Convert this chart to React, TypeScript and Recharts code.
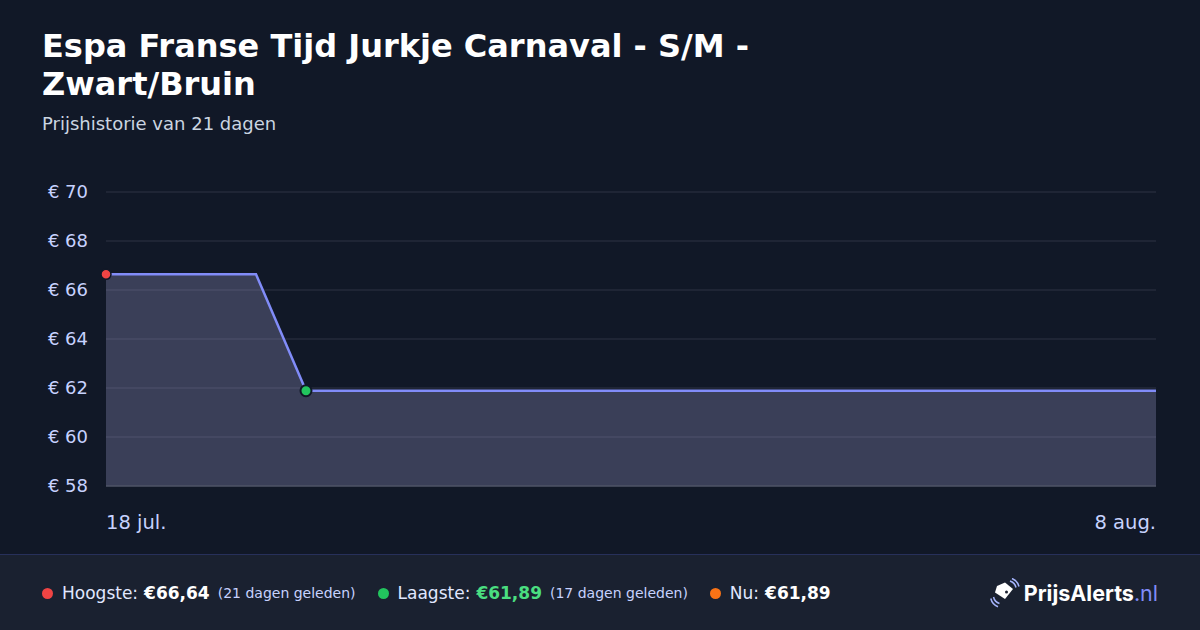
import { AreaChart, Area, XAxis, YAxis, CartesianGrid } from 'recharts';

const dayLabels = [
  '18 jul.', '19 jul.', '20 jul.', '21 jul.', '22 jul.', '23 jul.', '24 jul.', '25 jul.',
  '26 jul.', '27 jul.', '28 jul.', '29 jul.', '30 jul.', '31 jul.', '1 aug.', '2 aug.',
  '3 aug.', '4 aug.', '5 aug.', '6 aug.', '7 aug.', '8 aug.',
];
const prices = [
  66.64, 66.64, 66.64, 66.64, 61.89, 61.89, 61.89, 61.89, 61.89, 61.89, 61.89,
  61.89, 61.89, 61.89, 61.89, 61.89, 61.89, 61.89, 61.89, 61.89, 61.89, 61.89,
];
const yTicks = [58, 60, 62, 64, 66, 68, 70];
const xTicks = [0, 21];

const data = prices.map((price, i) => ({ day: i, label: dayLabels[i], price }));

const maxIdx = prices.indexOf(Math.max(...prices));
const minIdx = prices.indexOf(Math.min(...prices));

const FONT = '"DejaVu Sans", sans-serif';

const PriceDot = (props: any) => {
  const { cx, cy, index } = props;
  if (index === maxIdx) return <circle key={index} cx={cx} cy={cy} r={5} fill="#ef4444" stroke="#111827" strokeWidth={1.5} />;
  if (index === minIdx) return <circle key={index} cx={cx} cy={cy} r={5.5} fill="#22c55e" stroke="#111827" strokeWidth={2} />;
  return <g key={index} />;
};

const XTick = (props: any) => {
  const { x, y, payload, index } = props;
  return (
    <text x={x} y={y} dy="0.71em" fill="#c7d2fe" fontSize={19.5} fontFamily={FONT} textAnchor={index === 0 ? 'start' : 'end'}>
      {dayLabels[payload.value]}
    </text>
  );
};

function Logo() {
  return (
    <div style={{ position: 'absolute', right: 42, top: 23, display: 'flex', alignItems: 'center', gap: 4 }}>
      <svg width="30" height="30" viewBox="0 0 30 30">
        <path d="M7 8 L15 4.5 L23 11 L15 21 L5 14.5 Z" fill="#ffffff" />
        <circle cx="16.5" cy="14" r="1.5" fill="#1a2130" />
        <path d="M20 3 A9 9 0 0 1 26 9.5" stroke="#a5b4fc" strokeWidth="1.5" fill="none" />
        <path d="M22 0.5 A12 12 0 0 1 29 8.5" stroke="#a5b4fc" strokeWidth="1.5" fill="none" />
        <path d="M3.5 19 A9 9 0 0 0 9.5 25.5" stroke="#a5b4fc" strokeWidth="1.5" fill="none" />
        <path d="M0.8 20.5 A12 12 0 0 0 8 28.8" stroke="#a5b4fc" strokeWidth="1.5" fill="none" />
      </svg>
      <span style={{ fontFamily: 'Inter, sans-serif', fontWeight: 700, fontSize: 21.5, color: '#ffffff' }}>
        PrijsAlerts<span style={{ color: '#818cf8', fontWeight: 400 }}>.nl</span>
      </span>
    </div>
  );
}

function Stat({ color, label, value, valueColor, note }: { color: string; label: string; value: string; valueColor: string; note?: string }) {
  return (
    <div style={{ display: 'flex', alignItems: 'center', marginRight: 22 }}>
      <span style={{ width: 11, height: 11, borderRadius: '50%', background: color, marginRight: 9 }} />
      <span style={{ color: '#e0e7ff', fontSize: 17 }}>{label}</span>
      <span style={{ color: valueColor, fontSize: 17, fontWeight: 700, marginLeft: 6 }}>{value}</span>
      {note && <span style={{ color: '#c7d2fe', fontSize: 14, marginLeft: 8 }}>{note}</span>}
    </div>
  );
}

export default function App() {
  return (
    <div style={{ position: 'absolute', left: 0, top: 0, width: 1200, height: 630, background: '#111827', fontFamily: FONT, overflow: 'hidden' }}>
      <div style={{ position: 'absolute', left: 42, top: 27, width: 820, color: '#ffffff', fontSize: 32, fontWeight: 700, lineHeight: '38px' }}>
        Espa Franse Tijd Jurkje Carnaval - S/M - Zwart/Bruin
      </div>
      <div style={{ position: 'absolute', left: 42, top: 113, color: '#cbd5e1', fontSize: 18 }}>
        Prijshistorie van 21 dagen
      </div>

      <div style={{ position: 'absolute', left: 0, top: 0 }}>
        <AreaChart width={1200} height={554} data={data} margin={{ top: 192, right: 44, bottom: 28, left: 40 }}>
          <CartesianGrid vertical={false} stroke="#1f2535" strokeWidth={2} />
          <XAxis
            dataKey="day"
            type="number"
            domain={[0, 21]}
            ticks={xTicks}
            height={40}
            axisLine={{ stroke: '#4b5063', strokeWidth: 1.5 }}
            tickLine={false}
            tickMargin={23}
            tick={<XTick />}
          />
          <YAxis
            domain={[58, 70]}
            ticks={yTicks}
            width={66}
            axisLine={false}
            tickLine={false}
            tickMargin={12}
            tick={{ fill: '#c7d2fe', fontSize: 18, fontFamily: FONT }}
            tickFormatter={(v) => `€ ${v}`}
          />
          <Area
            type="linear"
            dataKey="price"
            stroke="#818cf8"
            strokeWidth={2.5}
            fill="#9d9aca"
            fillOpacity={0.3}
            dot={PriceDot}
            activeDot={false}
            isAnimationActive={false}
          />
        </AreaChart>
      </div>

      <div style={{ position: 'absolute', left: 0, top: 554, width: 1200, height: 76, background: '#1a2130', borderTop: '1px solid #27305a', boxSizing: 'border-box' }}>
        <div style={{ position: 'absolute', left: 42, top: 0, height: 76, display: 'flex', alignItems: 'center' }}>
          <Stat color="#ef4444" label="Hoogste:" value="€66,64" valueColor="#ffffff" note="(21 dagen geleden)" />
          <Stat color="#22c55e" label="Laagste:" value="€61,89" valueColor="#4ade80" note="(17 dagen geleden)" />
          <Stat color="#f97316" label="Nu:" value="€61,89" valueColor="#ffffff" />
        </div>
        <Logo />
      </div>
    </div>
  );
}
